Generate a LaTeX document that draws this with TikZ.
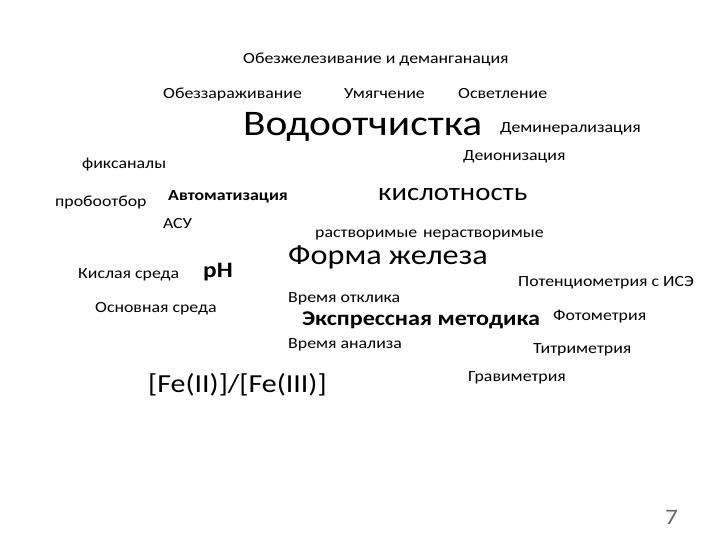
\documentclass[tikz,border=0pt]{standalone}
\usepackage{fontspec}
\newfontfamily\cloudfont[FakeStretch=1.15]{Carlito}
\usepackage{tikz}

\tikzset{
  word/.style={anchor=west, inner sep=0pt, font=\cloudfont\fontsize{15.5}{17}\selectfont},
  bigword/.style={word, font=\cloudfont\fontsize{#1}{#1}\selectfont},
  boldword/.style={word, font=\cloudfont\bfseries\fontsize{#1}{#1}\selectfont}
}

\begin{document}
\begin{tikzpicture}[x=1pt, y=-1pt]
			%%%%% START %%%%%
			\useasboundingbox (0, 0) rectangle (720, 540);
			
			\begin{scope}[yshift=-2pt]
			\node[word] (obezhel) at (243, 57) {Обезжелезивание и деманганация};
			
			\node[word] (obezzar) at (163, 92) {Обеззараживание};
			\node[word] (umyag) at (344, 92) {Умягчение};
			\node[word] (osvet) at (458, 92) {Осветление};
			
			\node[bigword=36] (vodo) at (243, 125) {Водоотчистка};
			\node[word] (demin) at (500, 127) {Деминерализация};
			\node[word] (deion) at (463, 155) {Деионизация};
			
			\node[word] (fiks) at (82, 163) {фиксаналы};
			\node[word] (probo) at (55, 200) {пробоотбор};
			\node[boldword=15.5] (avto) at (168, 195) {Автоматизация};
			\node[bigword=25] (kisl) at (378, 193) {кислотность};
			\node[word] (asu) at (163, 222) {АСУ};
			
			\node[word] (rastv) at (315, 233) {растворимые};
			\node[word] (nerastv) at (423, 233) {нерастворимые};
			\node[bigword=28] (forma) at (288, 255) {Форма железа};
			
			\node[word] (kislsr) at (78, 273) {Кислая среда};
			\node[boldword=22] (ph) at (203, 270) {pH};
			\node[word] (poten) at (518, 281) {Потенциометрия с ИСЭ};
			
			\node[word] (vremotk) at (288, 297) {Время отклика};
			\node[word] (osnsr) at (95, 307) {Основная среда};
			\node[boldword=21] (ekspr) at (302, 318) {Экспрессная методика};
			\node[word] (foto) at (553, 315) {Фотометрия};
			
			\node[word] (vreman) at (288, 343) {Время анализа};
			\node[word] (titr) at (533, 348) {Титриметрия};
			\node[bigword=26] (fe) at (148, 383) {[Fe(II)]/[Fe(III)]};
			\node[word] (grav) at (468, 376) {Гравиметрия};
			\end{scope}
			
			\node[bigword=22, text=black!60] (num) at (665, 517) {7};
			%%%%% END %%%%%
		\end{tikzpicture}
\end{document}
